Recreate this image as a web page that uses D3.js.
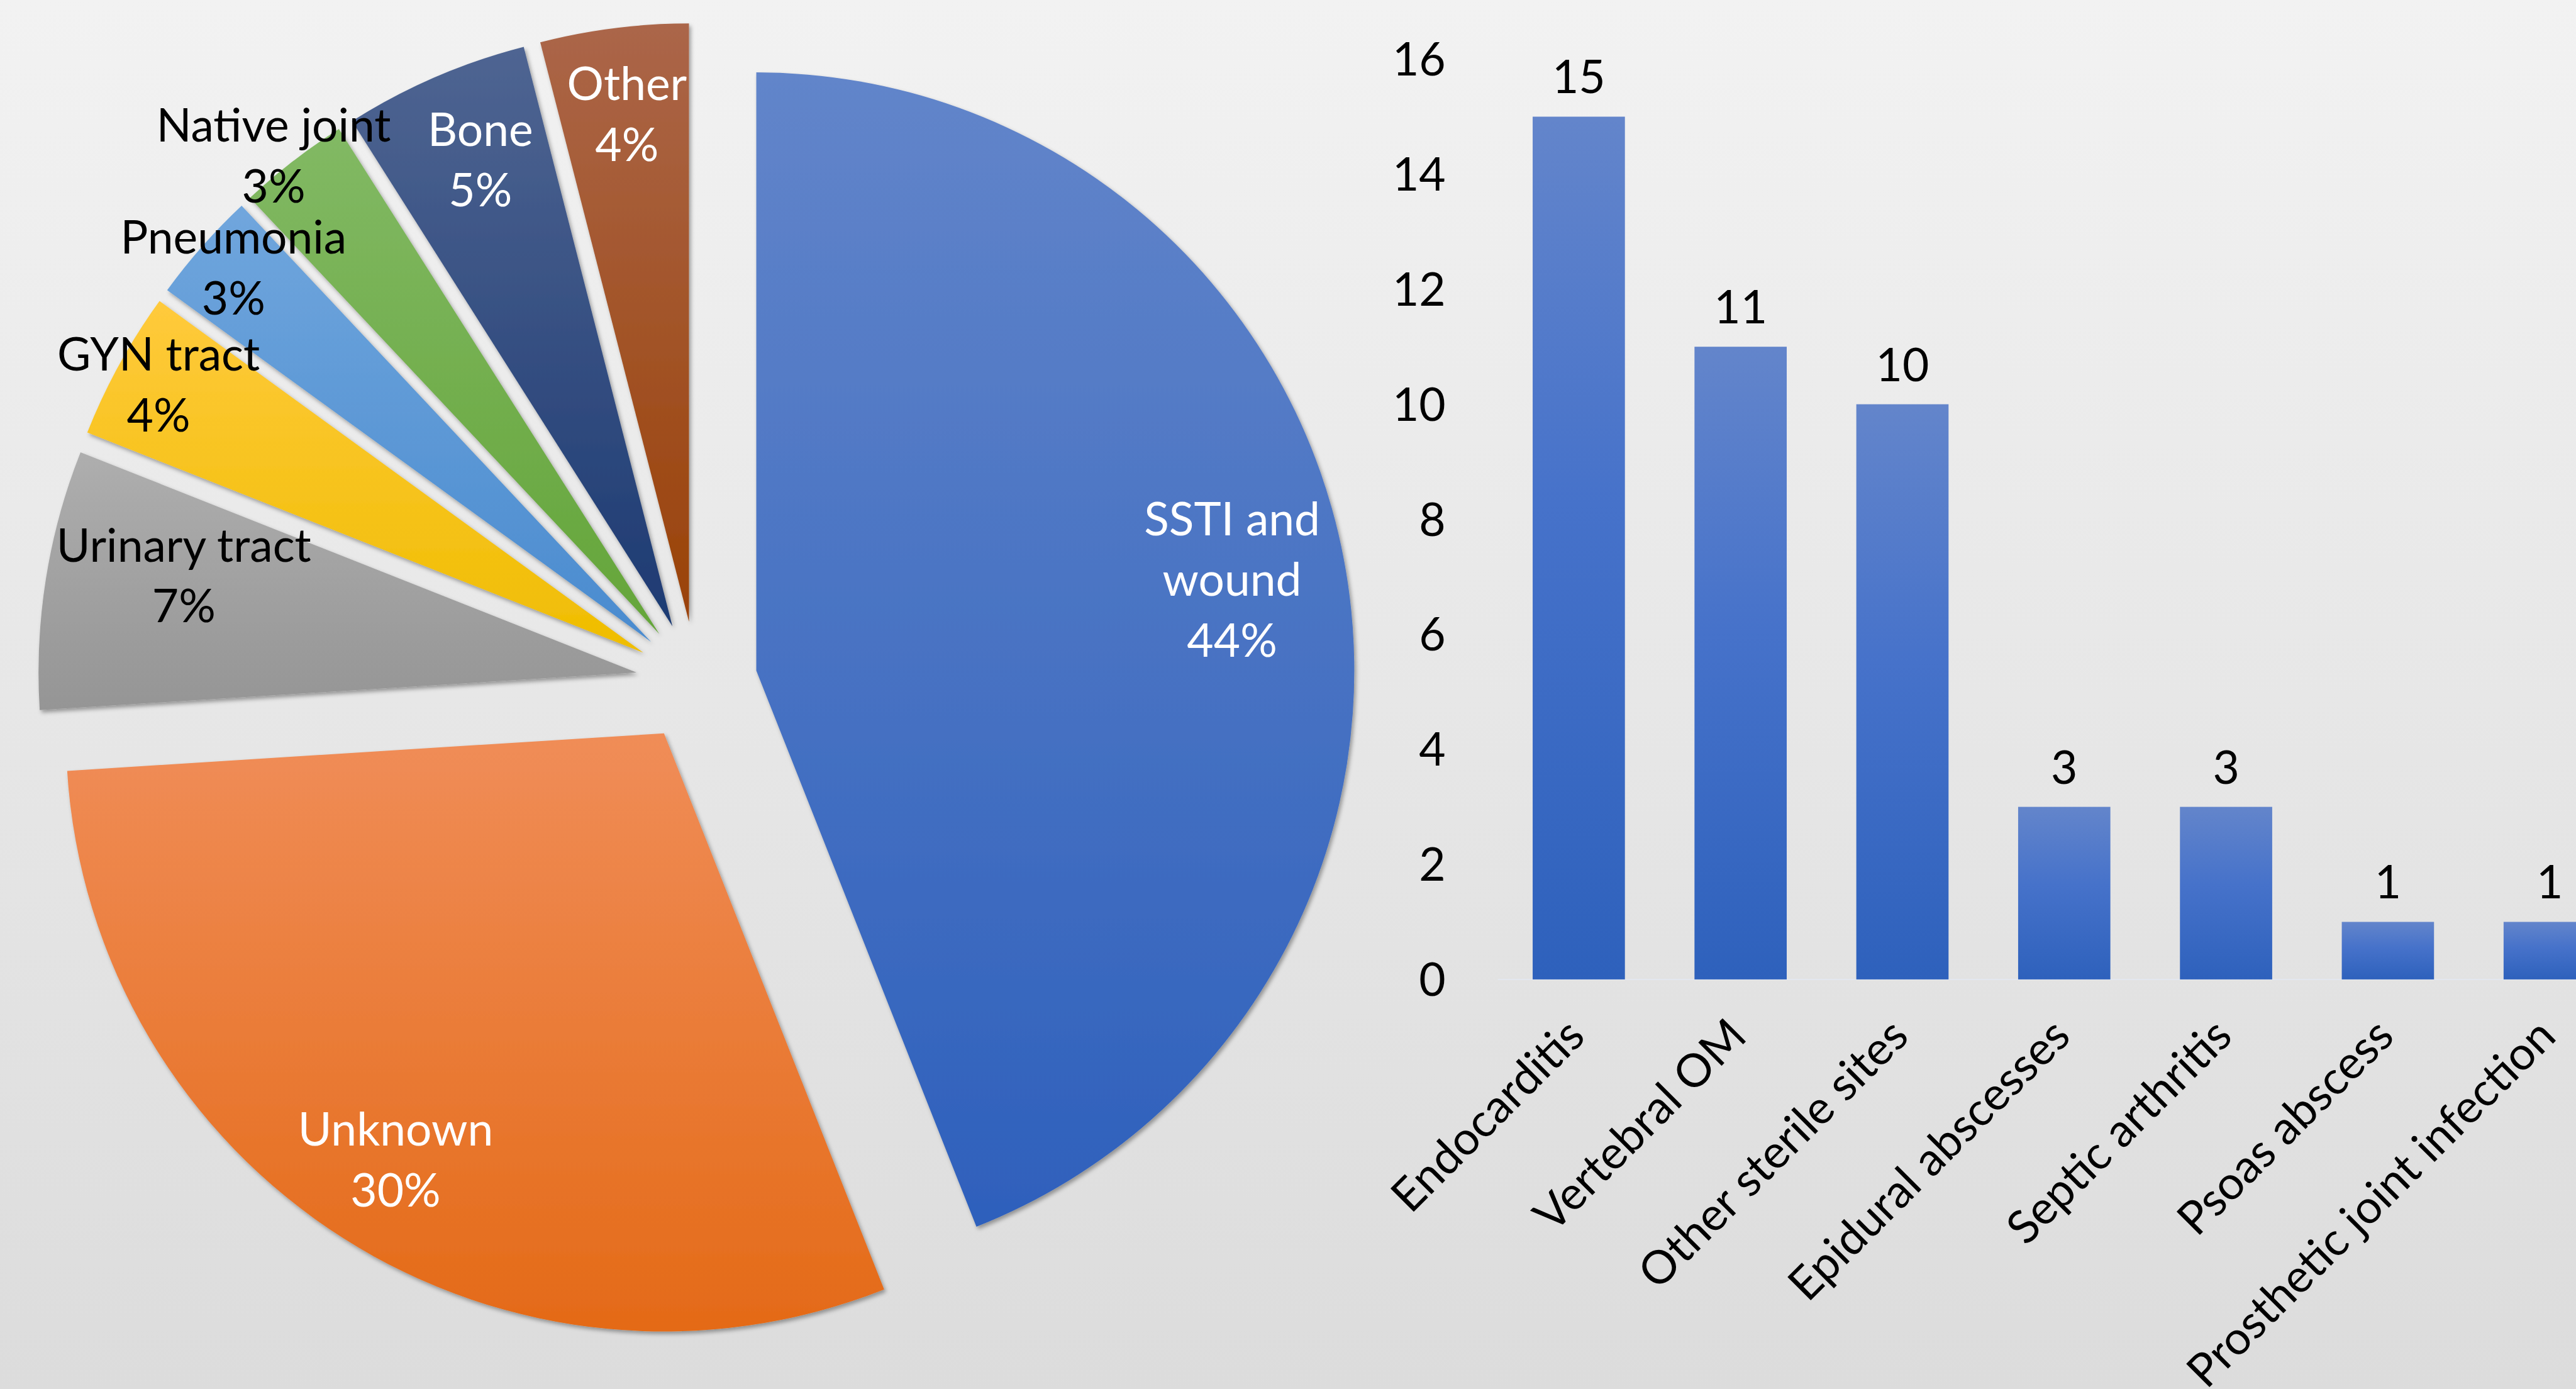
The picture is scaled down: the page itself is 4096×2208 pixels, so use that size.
<!DOCTYPE html>
<html><head><meta charset="utf-8">
<script src="https://cdn.jsdelivr.net/npm/d3@7"></script>
<style>html,body{margin:0;padding:0;overflow:hidden;background:#eee}svg{display:block}</style>
</head><body>
<script>
// ---- data ----
const pieLabels = ["SSTI and wound","Unknown","Urinary tract","GYN tract","Pneumonia","Native joint","Bone","Other"];
const piePercents = [44,30,7,4,3,3,5,4];
const barCategories = ["Endocarditis","Vertebral OM","Other sterile sites","Epidural abscesses","Septic arthritis","Psoas abscess","Prosthetic joint infection"];
const barValues = [15,11,10,3,3,1,1];
const yTicks = [0,2,4,6,8,10,12,14,16];

// ---- styles / layout ----
const W = 4096, H = 2208, S = 4096/1568;
const sliceTop =    ["#6285CA","#F08D58","#AEAEAE","#FFCA3C","#70A6DD","#82B964","#4F6592","#AB6649"];
const sliceBottom = ["#2E60BC","#E46A17","#959595","#EFBD00","#4A8BCF","#64A539","#1D3A72","#9A4208"];
const labelWhite = [true,true,false,false,false,false,true,true];
const labelK  = [0.81,0.843,0.774,0.926,0.937,1.027,0.843,0.854];   // radial position (fraction of radius)
const labelDA = [0,-0.2,2.7,0.1,0.4,-1.0,0.9,0.2];                  // angular nudge (degrees)
const FONT = "Lato, 'Open Sans', sans-serif";
const FS = 28*S;

const svg = d3.select("body").append("svg").attr("width",W).attr("height",H);
const defs = svg.append("defs");
const bg = defs.append("linearGradient").attr("id","bg").attr("x1",0).attr("y1",0).attr("x2",0).attr("y2",1);
bg.append("stop").attr("offset","0%").attr("stop-color","#F2F2F2");
bg.append("stop").attr("offset","100%").attr("stop-color","#DCDCDC");
svg.append("rect").attr("width",W).attr("height",H).attr("fill","url(#bg)");

const sh = defs.append("filter").attr("id","shadow").attr("x","-10%").attr("y","-10%").attr("width","130%").attr("height","130%");
sh.append("feDropShadow").attr("dx",3).attr("dy",4).attr("stdDeviation",3).attr("flood-color","#000").attr("flood-opacity",0.35);

pieLabels.forEach((_,i)=>{
  const g = defs.append("linearGradient").attr("id","sg"+i).attr("x1",0).attr("y1",0).attr("x2",0).attr("y2",1);
  g.append("stop").attr("offset","0%").attr("stop-color",sliceTop[i]);
  g.append("stop").attr("offset","100%").attr("stop-color",sliceBottom[i]);
});
const bgr = defs.append("linearGradient").attr("id","barg").attr("x1",0).attr("y1",0).attr("x2",0).attr("y2",1);
bgr.append("stop").attr("offset","0%").attr("stop-color","#6385CB");
bgr.append("stop").attr("offset","45%").attr("stop-color","#4672CA");
bgr.append("stop").attr("offset","100%").attr("stop-color","#2E61BC");

// ---- pie ----
const cx = 424*S, cy = 415*S, R = 364*S, EXP = 37*S;
const pie = d3.pie().sort(null).value(d=>d);
const arcs = pie(piePercents);
const arc = d3.arc().innerRadius(0).outerRadius(R);
const pg = svg.append("g").attr("transform",`translate(${cx},${cy})`);
arcs.forEach((a,i)=>{
  const m = (a.startAngle+a.endAngle)/2;
  const ox = EXP*Math.sin(m), oy = -EXP*Math.cos(m);
  pg.append("path").attr("d",arc(a)).attr("transform",`translate(${ox},${oy})`)
    .attr("fill",`url(#sg${i})`).attr("filter","url(#shadow)");
});
arcs.forEach((a,i)=>{
  const m0 = (a.startAngle+a.endAngle)/2;
  const m = m0 + labelDA[i]*Math.PI/180;
  const rr = EXP + labelK[i]*R;
  const lx = rr*Math.sin(m), ly = -rr*Math.cos(m);
  let lines;
  if(i===0) lines = ["SSTI and","wound",piePercents[i]+"%"];
  else lines = [pieLabels[i], piePercents[i]+"%"];
  const lh = 37*S;
  const t = pg.append("text").attr("x",lx).attr("y",ly).attr("text-anchor","middle")
    .attr("font-family",FONT).attr("font-size",FS).attr("fill",labelWhite[i]?"#fff":"#000");
  lines.forEach((ln,j)=>{
    t.append("tspan").attr("x",lx).attr("y",ly + (j-(lines.length-1)/2)*lh).attr("dy","0.35em").text(ln);
  });
});

// ---- bars ----
const y = d3.scaleLinear().domain([0,16]).range([596*S, 36*S]);
const x = d3.scaleBand().domain(barCategories).range([911.75*S, (911.75+7*98.5)*S]).paddingInner(0.43).paddingOuter(0.215);
svg.append("line").attr("x1",x.range()[0]).attr("x2",x.range()[1]).attr("y1",y(0)).attr("y2",y(0))
  .attr("stroke","#E3E7EF").attr("stroke-width",2);
const bgG = svg.append("g");
bgG.selectAll("rect").data(barValues).join("rect")
  .attr("x",(d,i)=>x(barCategories[i])).attr("width",x.bandwidth())
  .attr("y",d=>y(d)).attr("height",d=>y(0)-y(d)).attr("fill","url(#barg)");
bgG.selectAll("text.v").data(barValues).join("text").attr("class","v")
  .attr("x",(d,i)=>x(barCategories[i])+x.bandwidth()/2).attr("y",d=>y(d)-24*S).attr("dy","0.35em")
  .attr("text-anchor","middle").attr("font-family",FONT).attr("font-size",FS).attr("fill","#000").text(d=>d);

const yAxis = d3.axisLeft(y).tickValues(yTicks).tickSize(0).tickPadding(0);
const ya = svg.append("g").attr("transform",`translate(${880*S},0)`).call(yAxis);
ya.select(".domain").remove();
ya.selectAll("text").attr("font-family",FONT).attr("font-size",FS).attr("fill","#000").attr("dy","0.35em");

const xa = svg.append("g");
xa.selectAll("text").data(barCategories).join("text")
  .attr("transform",d=>`translate(${x(d)+x.bandwidth()/2+5*S},${596*S+36*S}) rotate(-45)`)
  .attr("text-anchor","end").attr("font-family",FONT).attr("font-size",FS).attr("fill","#000").text(d=>d);
</script>
</body></html>
